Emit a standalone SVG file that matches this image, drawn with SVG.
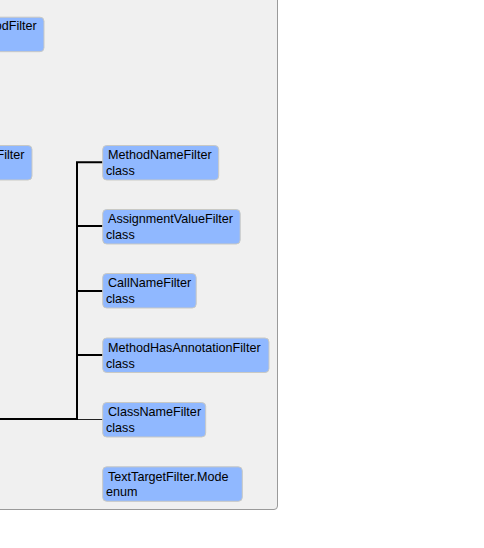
<svg xmlns="http://www.w3.org/2000/svg" width="484" height="548" viewBox="0 0 484 548">
  <style>
    .box { fill: #90b8ff; stroke: #c9c9c4; stroke-width: 1; }
    .t { font-family: "Liberation Sans", Arial, sans-serif; font-size: 12.6px; fill: #000; }
    .wire { stroke: #000; stroke-width: 2; fill: none; }
    .thin { stroke: #222; stroke-width: 1; fill: none; }
  </style>
  <rect x="0" y="0" width="484" height="548" fill="#ffffff"/>
  <path d="M-5,-5 H277.5 V506 Q277.5,509.5 274,509.5 H-5 Z" fill="#f0f0f0" stroke="#9a9a9a" stroke-width="1"/>

  <g id="connectors">
    <path class="wire" d="M0,419 H77 V162.3 H103"/>
    <path class="wire" d="M77,226 H103"/>
    <path class="wire" d="M77,291 H103"/>
    <path class="wire" d="M77,355 H103"/>
    <path class="thin" d="M78,419.5 H103"/>
  </g>

  <g id="node-odFilter">
    <rect class="box" x="-10" y="17.2" width="54" height="34.5" rx="4"/>
    <text class="t" x="36.7" y="30" text-anchor="end">odFilter</text>
  </g>
  <g id="node-Filter">
    <rect class="box" x="-10" y="145.5" width="42" height="34.5" rx="4"/>
    <text class="t" x="24.5" y="159.3" text-anchor="end">Filter</text>
  </g>

  <g id="node-MethodNameFilter">
    <rect class="box" x="102.7" y="145.5" width="116" height="34.5" rx="4"/>
    <text class="t" x="108" y="159.3">MethodNameFilter</text>
    <text class="t" x="106" y="175">class</text>
  </g>
  <g id="node-AssignmentValueFilter">
    <rect class="box" x="102.7" y="209.5" width="137.5" height="34.5" rx="4"/>
    <text class="t" x="108" y="223.3">AssignmentValueFilter</text>
    <text class="t" x="106" y="239">class</text>
  </g>
  <g id="node-CallNameFilter">
    <rect class="box" x="102.7" y="273.5" width="93.5" height="34.5" rx="4"/>
    <text class="t" x="108" y="287.3">CallNameFilter</text>
    <text class="t" x="106" y="303">class</text>
  </g>
  <g id="node-MethodHasAnnotationFilter">
    <rect class="box" x="102.7" y="338" width="166.3" height="34.5" rx="4"/>
    <text class="t" x="108" y="351.8">MethodHasAnnotationFilter</text>
    <text class="t" x="106" y="367.5">class</text>
  </g>
  <g id="node-ClassNameFilter">
    <rect class="box" x="102.7" y="402.5" width="103" height="34.5" rx="4"/>
    <text class="t" x="108" y="416.3">ClassNameFilter</text>
    <text class="t" x="106" y="432">class</text>
  </g>
  <g id="node-TextTargetFilterMode">
    <rect class="box" x="102.7" y="466.8" width="139.6" height="34.5" rx="4"/>
    <text class="t" x="108" y="480.6">TextTargetFilter.Mode</text>
    <text class="t" x="106" y="496.3">enum</text>
  </g>
</svg>
